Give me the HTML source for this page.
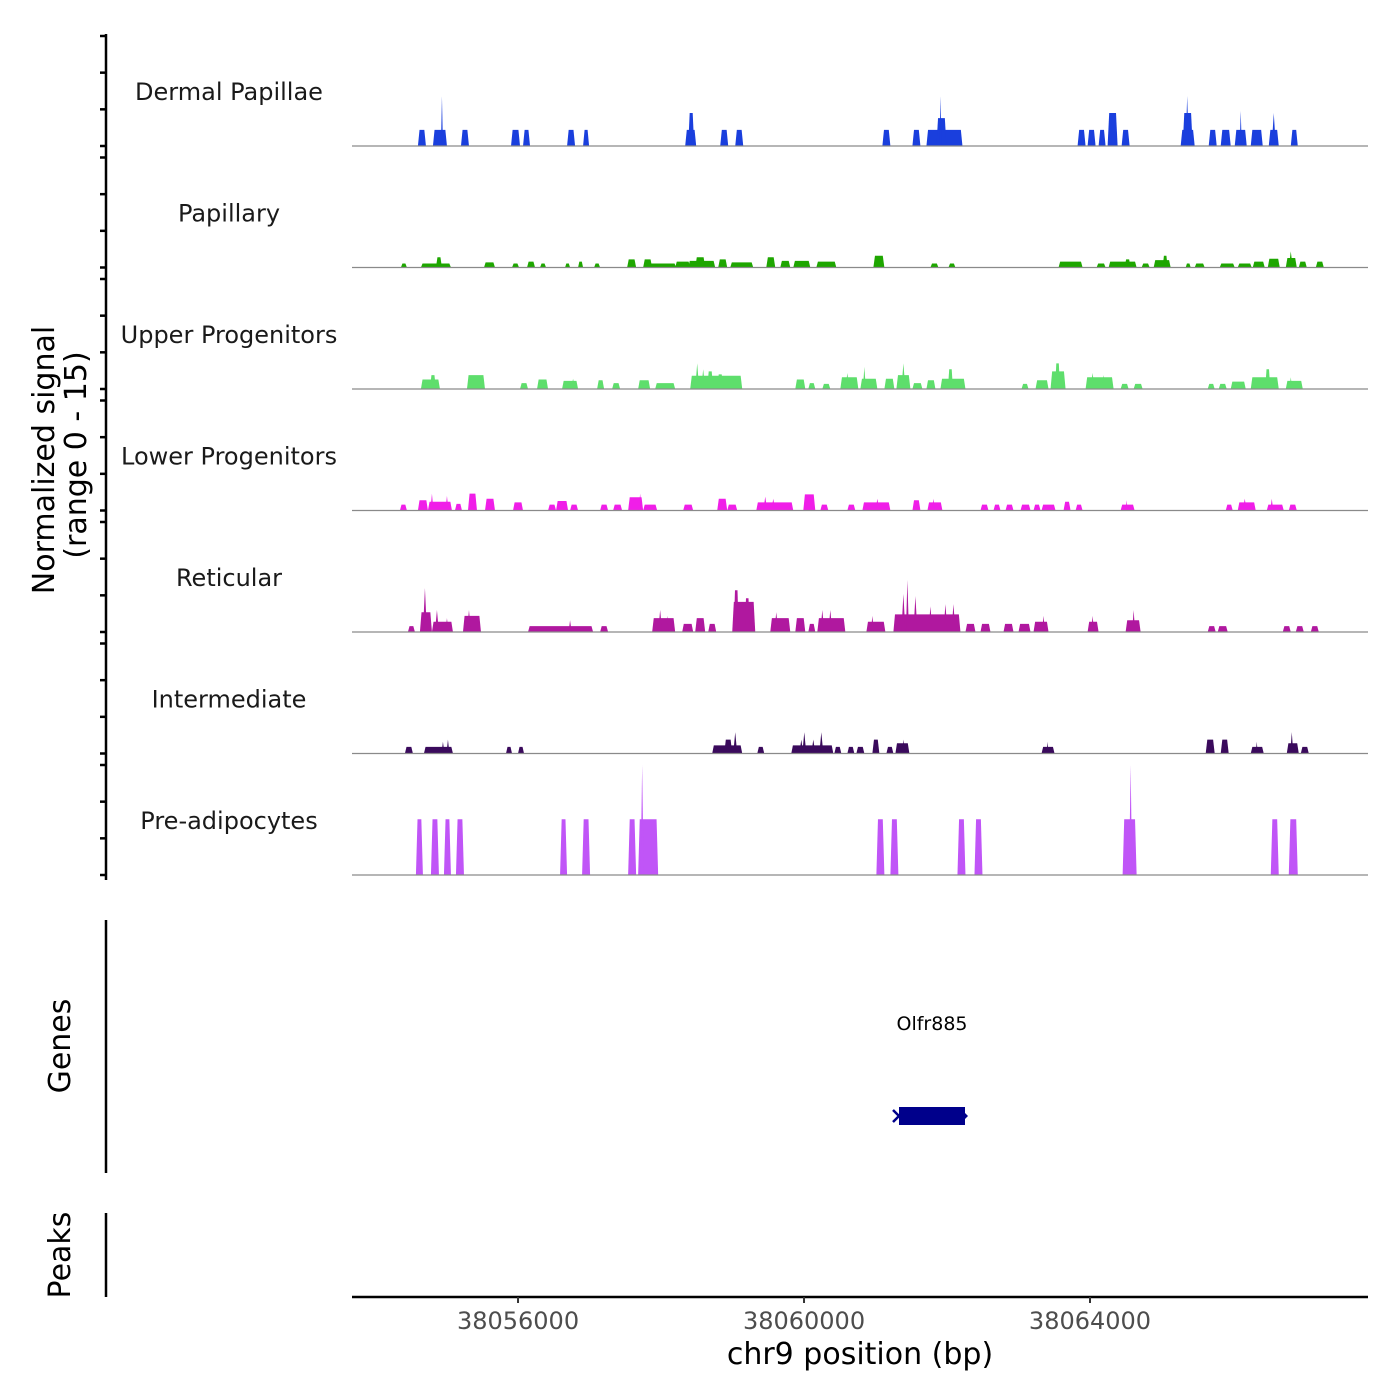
<!DOCTYPE html>
<html><head><meta charset="utf-8"><style>
html,body{margin:0;padding:0;background:#fff;}
svg{display:block;font-family:"DejaVu Sans","Liberation Sans",sans-serif;}
</style></head><body>
<svg id="chart" width="1400" height="1400" viewBox="0 0 1400 1400">
<rect x="0" y="0" width="1400" height="1400" fill="#fff"/>
<g id="tracks"></g>
<g id="yaxis"></g>
<text transform="translate(54,460) rotate(-90)" text-anchor="middle" font-size="30" fill="#000">Normalized signal</text>
<text transform="translate(86,455) rotate(-90)" text-anchor="middle" font-size="30" fill="#000">(range 0 - 15)</text>
<line x1="106" y1="920" x2="106" y2="1173" stroke="#000" stroke-width="2.5"/>
<text transform="translate(70,1046) rotate(-90)" text-anchor="middle" font-size="30" fill="#000">Genes</text>
<g>
<text x="932" y="1030" text-anchor="middle" font-size="19" fill="#000">Olfr885</text>
<rect x="899" y="1107" width="66" height="18" fill="#00008b"/>
<path d="M893,1110 L899,1116 L893,1122" stroke="#00008b" stroke-width="2.5" fill="none"/>
<path d="M965,1113 L968,1116 L965,1119Z" fill="#00008b"/>
</g>
<line x1="106" y1="1213" x2="106" y2="1297" stroke="#000" stroke-width="2.5"/>
<text transform="translate(70,1255) rotate(-90)" text-anchor="middle" font-size="30" fill="#000">Peaks</text>
<g id="xaxis"></g>
<text x="860" y="1364" text-anchor="middle" font-size="30" fill="#000">chr9 position (bp)</text>
</svg>
<script>
const xTicks = [38056000, 38060000, 38064000];
const trackNames = ["Dermal Papillae","Papillary","Upper Progenitors","Lower Progenitors","Reticular","Intermediate","Pre-adipocytes"];
const trackColors = ["#1a3fdd","#1ea600","#5ede6c","#f01ee8","#b0189f","#3a0a5c","#c055f7"];
const yTicks = [0,5,10,15];
// peaks: [centerBp, widthBp, value]
const dermalPapillae = [[38054656,112,2.2],[38054908,196,2.2],[38054936,28,6.8],[38055258,112,2.2],[38055965,126,2.2],[38056119,98,2.2],[38056742,112,2.2],[38056952,84,2.2],[38058415,154,2.2],[38058422,84,4.5],[38058884,112,2.2],[38059094,112,2.2],[38061152,112,2.2],[38061572,112,2.2],[38061964,504,2.2],[38061922,140,3.8],[38061908,28,6.8],[38063882,112,2.2],[38064022,112,2.2],[38064169,98,2.2],[38064316,140,4.5],[38064498,112,2.2],[38065366,196,2.2],[38065366,140,4.5],[38065359,42,6.8],[38065716,112,2.2],[38065898,140,2.2],[38066108,168,2.2],[38066108,28,4.8],[38066332,168,2.2],[38066570,140,2.2],[38066570,56,4.5],[38066857,98,2.2]];
const papillary = [[38054404,84,0.55],[38054852,420,0.55],[38054894,84,1.4],[38055601,154,0.7],[38055965,98,0.55],[38056182,112,0.8],[38056350,84,0.55],[38056693,70,0.55],[38056875,70,0.8],[38057106,84,0.55],[38057589,126,1.1],[38057981,462,0.55],[38057813,126,1.1],[38058303,210,0.8],[38058569,378,0.9],[38058548,140,1.4],[38058863,126,1.1],[38059129,322,0.7],[38059535,126,1.4],[38059738,140,0.9],[38059969,238,0.9],[38060312,280,0.8],[38061047,154,1.6],[38061824,112,0.55],[38062069,98,0.55],[38063728,336,0.8],[38064155,126,0.55],[38064456,392,0.8],[38064526,84,1.1],[38064778,112,0.55],[38065009,238,1.0],[38065051,70,1.6],[38065373,70,0.55],[38065534,140,0.55],[38065919,210,0.55],[38066164,196,0.55],[38066360,168,0.8],[38066570,168,1.2],[38066815,154,1.3],[38066808,56,2.2],[38066976,112,0.8],[38067214,112,0.8]];
const upperProgenitors = [[38054775,266,1.3],[38054810,84,1.9],[38055412,252,1.9],[38056084,112,0.8],[38056343,154,1.3],[38056728,224,1.1],[38056770,56,1.4],[38057155,98,1.2],[38057372,112,0.8],[38057764,168,1.2],[38058058,280,0.8],[38058772,728,1.8],[38058506,56,3.5],[38058590,56,2.7],[38058688,84,2.4],[38058828,84,2.0],[38059948,140,1.3],[38060109,98,0.8],[38060312,112,0.7],[38060634,252,1.6],[38060606,56,2.2],[38060907,238,1.4],[38060844,42,3.0],[38061194,140,1.4],[38061390,196,1.9],[38061390,56,3.5],[38061586,140,0.8],[38061775,126,1.2],[38062083,350,1.4],[38062048,70,2.7],[38063091,98,0.7],[38063329,182,1.2],[38063553,210,2.4],[38063546,70,3.5],[38064134,392,1.6],[38064036,56,2.2],[38064190,56,1.9],[38064484,112,0.7],[38064673,126,0.7],[38065695,98,0.7],[38065856,112,0.7],[38066073,210,1.0],[38066444,392,1.6],[38066486,70,2.7],[38066857,238,1.1],[38066808,42,1.6]];
const lowerProgenitors = [[38054397,98,0.8],[38054670,140,1.4],[38054908,336,1.2],[38054796,42,2.3],[38055006,42,2.0],[38055167,98,0.9],[38055363,126,2.3],[38055608,140,1.6],[38056000,140,1.1],[38056476,112,0.8],[38056616,168,1.3],[38056784,112,0.8],[38057204,112,0.8],[38057393,126,0.8],[38057645,210,1.8],[38057708,42,2.3],[38057848,196,0.8],[38058380,140,0.8],[38058856,140,1.6],[38058996,140,0.8],[38059591,518,1.1],[38059458,56,1.9],[38059570,56,1.6],[38060074,168,2.2],[38060284,112,0.8],[38060662,112,0.8],[38061012,392,1.1],[38061026,56,1.6],[38061572,112,1.4],[38061831,210,1.1],[38061810,42,1.6],[38062524,112,0.8],[38062699,98,0.8],[38062874,112,0.8],[38063098,140,0.8],[38063259,98,0.8],[38063420,196,0.8],[38063679,98,1.2],[38063847,98,0.8],[38064526,196,0.8],[38064512,28,1.4],[38065947,98,0.8],[38066192,252,1.1],[38066164,56,1.6],[38066591,238,0.8],[38066542,42,1.6],[38066836,112,0.8]];
const reticular = [[38054509,98,0.8],[38054712,168,2.7],[38054698,56,6.0],[38054943,294,1.4],[38054866,56,3.0],[38055006,42,1.9],[38055356,252,2.2],[38055314,56,3.0],[38056595,910,0.8],[38056728,42,1.6],[38057204,112,0.8],[38058037,322,1.9],[38057988,56,3.0],[38058086,42,2.2],[38058373,154,1.1],[38058548,140,1.9],[38058716,112,1.1],[38059157,322,4.1],[38059052,70,5.7],[38059206,70,4.6],[38059668,280,1.9],[38059612,56,2.7],[38059948,140,1.9],[38060109,98,1.1],[38060382,392,1.9],[38060256,56,3.0],[38060368,56,3.0],[38061005,266,1.4],[38060956,42,2.2],[38061719,938,2.4],[38061390,56,5.2],[38061446,42,7.1],[38061558,56,4.9],[38061768,56,3.5],[38061978,56,3.8],[38062090,56,3.8],[38062328,140,1.1],[38062538,140,1.1],[38062860,140,1.1],[38063084,168,1.1],[38063315,210,1.4],[38063350,42,2.2],[38064043,154,1.4],[38064036,42,2.2],[38064603,210,1.6],[38064610,42,3.0],[38065702,112,0.8],[38065856,140,0.8],[38066752,112,0.8],[38066934,112,0.8],[38067144,112,0.8]];
const intermediate = [[38054474,112,0.9],[38054887,406,0.9],[38054950,42,1.6],[38055020,42,1.9],[38055874,84,0.9],[38056042,84,0.9],[38058926,420,1.1],[38058940,112,1.9],[38059038,56,2.9],[38059395,98,0.9],[38060116,588,1.1],[38059962,56,1.9],[38060004,56,2.9],[38060130,56,1.9],[38060242,56,2.9],[38060473,98,0.9],[38060655,98,0.9],[38060788,112,0.9],[38061005,98,1.9],[38061201,98,0.9],[38061376,196,1.4],[38061390,42,1.9],[38063413,182,0.9],[38063406,28,1.6],[38065681,126,1.9],[38065884,112,1.9],[38066339,182,0.9],[38066332,28,1.6],[38066836,168,1.4],[38066822,42,2.9],[38067004,112,0.9]];
const preAdipocytes = [[38054621,98,7.6],[38054838,112,7.6],[38055013,98,7.6],[38055188,112,7.6],[38056637,98,7.6],[38056952,112,7.6],[38057596,112,7.6],[38057820,280,7.6],[38057736,42,15],[38061068,112,7.6],[38061264,112,7.6],[38062202,112,7.6],[38062440,112,7.6],[38064554,196,7.6],[38064568,42,15],[38066584,112,7.6],[38066843,126,7.6]];
const trackData = [dermalPapillae,papillary,upperProgenitors,lowerProgenitors,reticular,intermediate,preAdipocytes];

const NS = "http://www.w3.org/2000/svg";
const X0 = 352, X1 = 1368, BP0 = 38053678, BP1 = 38067888;
function xScale(bp){ return X0 + (bp - BP0) * (X1 - X0) / (BP1 - BP0); }
const firstBase = 146, pitch = 121.5, trackH = 110;
function yScale(v, i){ return firstBase + i*pitch - v/15*trackH; }
function mk(tag, attrs, parent){ const e=document.createElementNS(NS,tag); for(const k in attrs) e.setAttribute(k, attrs[k]); parent.appendChild(e); return e; }

const tracksG = document.getElementById('tracks');
const yG = document.getElementById('yaxis');
const axLine = mk('line',{x1:106,y1:34,x2:106,y2:880,stroke:'#000','stroke-width':2.5},yG);



trackData.forEach((peaks, i) => {
  const g = mk('g',{},tracksG);
  
  
  const base = yScale(0,i);
  const lbl = mk('text',{x:229,y:base-46,'text-anchor':'middle','font-size':24,fill:'#1a1a1a'},g);
  lbl.textContent = trackNames[i];
  
  
  peaks.forEach(p => {
    const xa = xScale(p[0]-p[1]/2), xb = xScale(p[0]+p[1]/2);
    const y = yScale(p[2], i);
    const w = xb - xa;
    const t = w < 5 ? w/2 : Math.min(1.6, w/4);
    const poly = mk('polygon',{points:`${xa},${base} ${xa+t},${y} ${xb-t},${y} ${xb},${base}`,fill:trackColors[i]},g);
    
    
  });
  const bl = mk('line',{x1:X0,y1:base,x2:X1,y2:base,stroke:'#8a8a8a','stroke-width':1.2},g);
  
  
  yTicks.forEach(v => {
    const ty = yScale(v,i);
    const tk = mk('line',{x1:100,y1:ty,x2:106,y2:ty,stroke:'#000','stroke-width':2.5},yG);
    
    
  });
});

const xG = document.getElementById('xaxis');
const xl = mk('line',{x1:X0,y1:1297,x2:X1,y2:1297,stroke:'#000','stroke-width':2.5},xG);


xTicks.forEach(v => {
  const x = xScale(v);
  const tk = mk('line',{x1:x,y1:1297,x2:x,y2:1303,stroke:'#333','stroke-width':2},xG);
  
  
  const tl = mk('text',{x:x,y:1329,'text-anchor':'middle','font-size':24,fill:'#4d4d4d'},xG);
  tl.textContent = String(v);
  
  
});
</script>
</body></html>
